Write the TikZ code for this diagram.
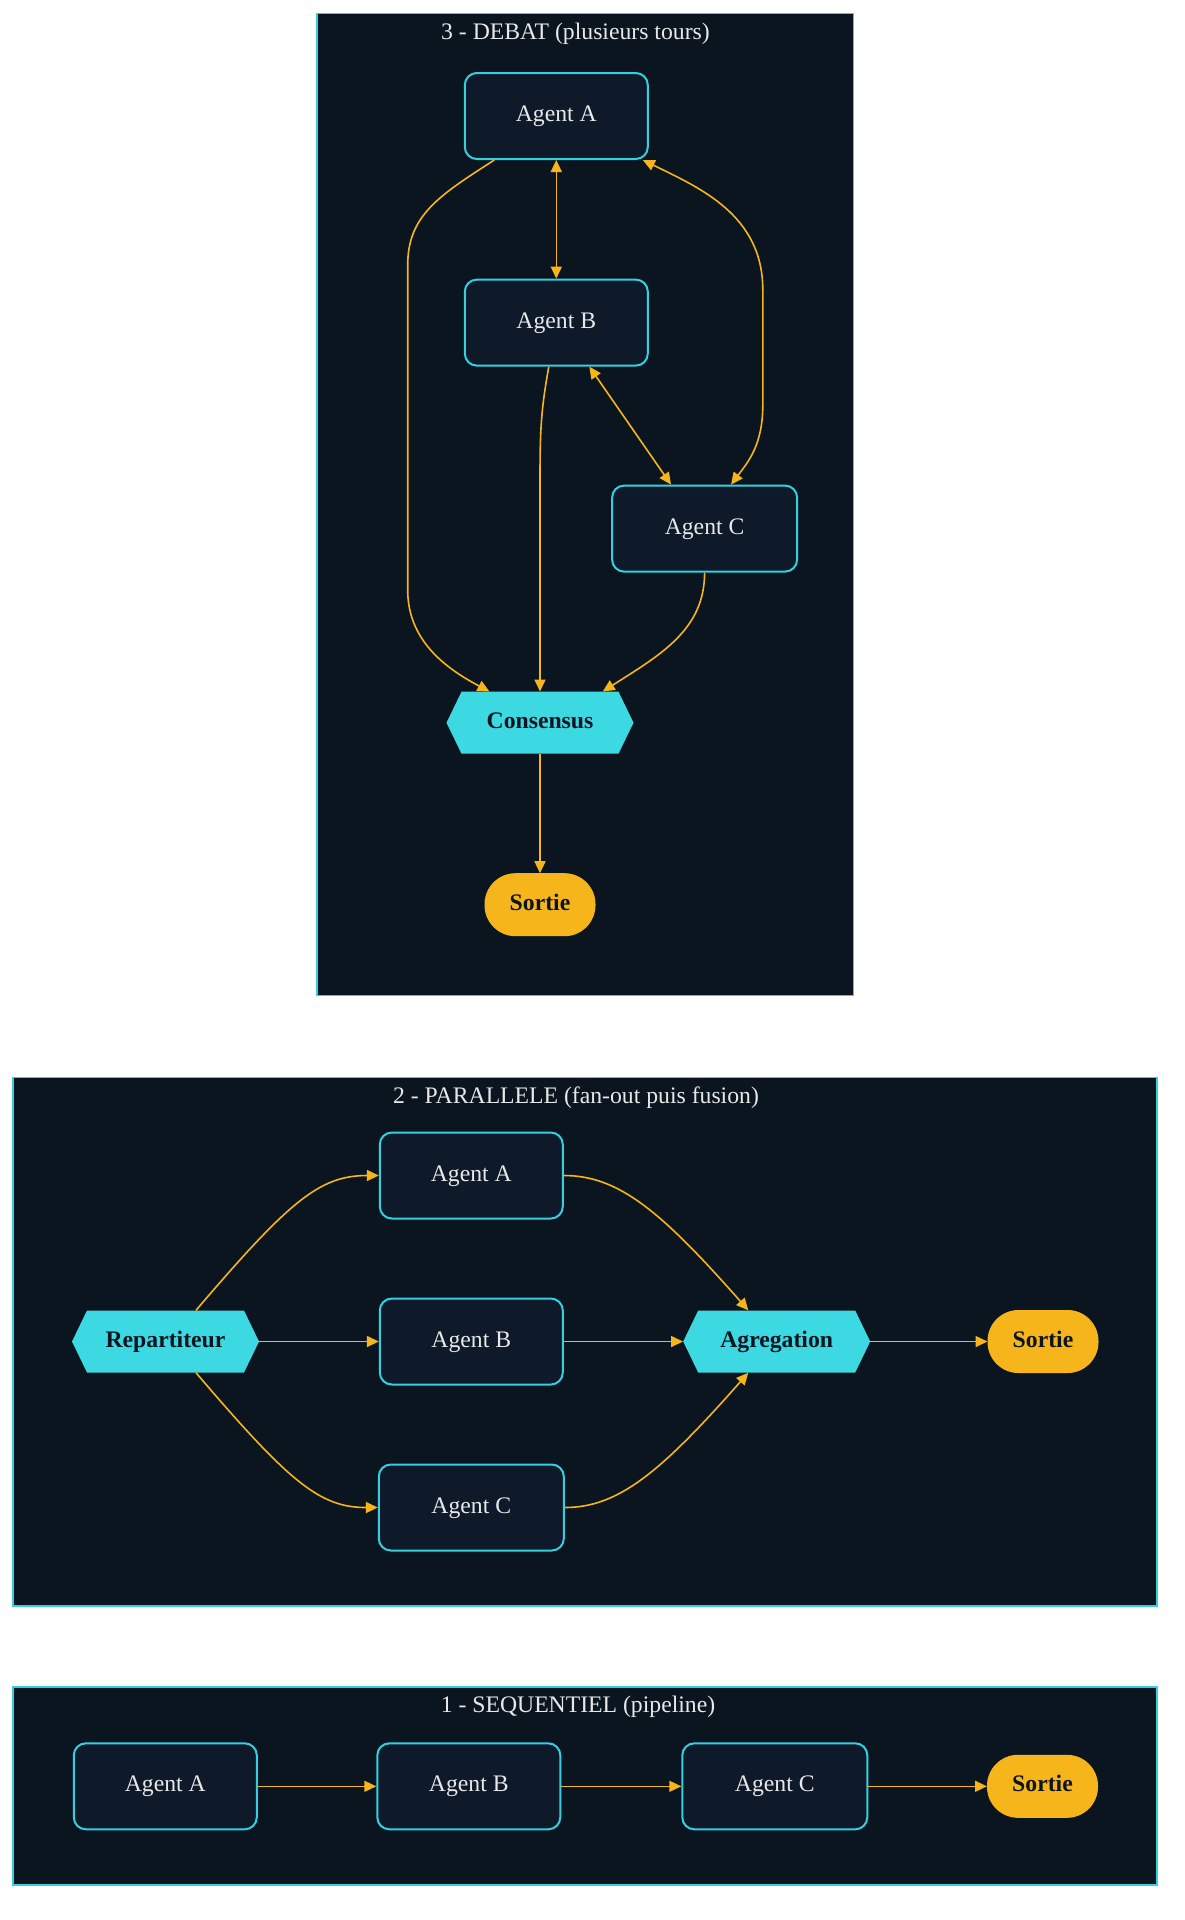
\documentclass[tikz,border=0pt]{standalone}
\usepackage{fontspec}
\setmainfont{Liberation Serif}
\usetikzlibrary{arrows.meta}
\definecolor{bgc}{HTML}{0B1520}
\definecolor{nodefill}{HTML}{0E1A2A}
\definecolor{cyanb}{HTML}{34CFE0}
\definecolor{hexfill}{HTML}{3DD9E3}
\definecolor{amber}{HTML}{F5B51B}
\definecolor{txt}{HTML}{E8E8E8}
\definecolor{darktxt}{HTML}{0B1520}
\begin{document}
\begin{tikzpicture}[x=1pt,y=-1pt,
  font=\fontsize{23.7}{28}\selectfont,
  cluster/.style={draw=cyanb, line width=1.8pt, fill=bgc},
  ctitle/.style={anchor=base, text=txt, inner sep=0pt},
  agent/.style={draw=cyanb, line width=2pt, fill=nodefill, rounded corners=12pt,
    minimum width=183pt, minimum height=86pt, text=txt, text height=16pt, text depth=4.7pt, inner sep=0pt},
  hexa/.style={shape=rectangle, fill=bgc, minimum width=187pt, minimum height=62pt, inner sep=0pt,
    text=darktxt, font=\fontsize{23.7}{28}\selectfont\bfseries, text height=16pt, text depth=4.7pt,
    path picture={\fill[hexfill] ([xshift=15pt]path picture bounding box.north west)
      -- ([xshift=-15pt]path picture bounding box.north east)
      -- (path picture bounding box.east)
      -- ([xshift=-15pt]path picture bounding box.south east)
      -- ([xshift=15pt]path picture bounding box.south west)
      -- (path picture bounding box.west) -- cycle;}},
  sortie/.style={fill=amber, draw=amber, line width=1pt, rounded corners=30.5pt, minimum width=110pt, minimum height=62pt,
    inner sep=0pt, text=darktxt, font=\fontsize{23.7}{28}\selectfont\bfseries, text height=16pt, text depth=4.7pt},
  conn/.style={draw=amber, line width=1.6pt, -{Triangle[length=12pt,width=11pt]}},
  biconn/.style={draw=amber, line width=1.6pt, {Triangle[length=12pt,width=11pt]}-{Triangle[length=12pt,width=11pt]}},
]
\fill[white] (0,0) rectangle (1184,1920);
\useasboundingbox (0,0) rectangle (1184,1920);

% clusters
\draw[cluster] (317,13.5) rectangle (853.4,995.5);
\draw[cluster] (13.3,1077.5) rectangle (1157.3,1606);
\draw[cluster] (13.3,1686.7) rectangle (1157.3,1885);

\node[ctitle] (t3) at (575.5,39) {3 - DEBAT (plusieurs tours)};
\node[ctitle] (t2) at (576,1103) {2 - PARALLELE (fan-out puis fusion)};
\node[ctitle] (t1) at (578,1712) {1 - SEQUENTIEL (pipeline)};

% cluster 3 nodes
\node[agent] (a3) at (556.3,116) {Agent A};
\node[agent] (b3) at (556.3,322.6) {Agent B};
\node[agent, minimum width=185pt] (c3) at (704.6,528.6) {Agent C};
\node[hexa] (cons) at (540,722.7) {Consensus\hspace{22pt}};
\node[sortie] (so3) at (540,904.7) {Sortie\hspace{6pt}};

% cluster 2 nodes
\node[hexa] (rep) at (165.5,1341.5) {Repartiteur\hspace{7pt}};
\node[agent] (a2) at (471.3,1175.5) {Agent A};
\node[agent] (b2) at (471.3,1341.5) {Agent B};
\node[agent, minimum width=185pt] (c2) at (471.3,1507.5) {Agent C};
\node[hexa] (agg) at (776.7,1341.5) {Agregation\hspace{14pt}};
\node[sortie] (so2) at (1043,1341.5) {Sortie\hspace{6pt}};

% cluster 1 nodes
\node[agent] (a1) at (165.3,1786.3) {Agent A};
\node[agent] (b1) at (468.8,1786.3) {Agent B};
\node[agent, minimum width=185pt] (c1) at (774.8,1786.3) {Agent C};
\node[sortie] (so1) at (1042.5,1786.3) {Sortie\hspace{6pt}};

% cluster 3 edges
\draw[conn] ([xshift=-62pt]a3.south) .. controls (440,195) and (407.7,215) .. (407.7,265)
  -- (407.7,590) .. controls (407.7,640) and (445,668) .. ([xshift=-50.5pt]cons.north);
\draw[conn] ([xshift=-7.5pt]b3.south) .. controls (541,410) and (540,430) .. (540,480) -- (cons.north);
\draw[conn] (c3.south) .. controls (704.6,630) and (660,655) .. ([xshift=62.7pt]cons.north);
\draw[biconn] (a3.south) -- (b3.north);
\draw[biconn] ([xshift=-6pt]a3.south east) .. controls (700,188) and (762.8,215) .. (762.8,290)
  -- (762.8,405) .. controls (762.8,445) and (748,462) .. ([xshift=26.4pt]c3.north);
\draw[biconn] ([xshift=33pt]b3.south) -- ([xshift=-33.6pt]c3.north);
\draw[conn] (cons.south) -- (so3.north);

% cluster 2 edges
\draw[conn] ([xshift=30.5pt]rep.north) .. controls (290,1200) and (320,1175.5) .. (a2.west);
\draw[conn] (rep.east) -- (b2.west);
\draw[conn] ([xshift=30.5pt]rep.south) .. controls (290,1483) and (320,1507.5) .. (c2.west);
\draw[conn] (a2.east) .. controls (618,1175.5) and (660,1210) .. ([xshift=-28.4pt]agg.north);
\draw[conn] (b2.east) -- (agg.west);
\draw[conn] (c2.east) .. controls (618,1507.5) and (660,1473) .. ([xshift=-28.4pt]agg.south);
\draw[conn] (agg.east) -- (so2.west);

% cluster 1 edges
\draw[conn] (a1.east) -- (b1.west);
\draw[conn] (b1.east) -- (c1.west);
\draw[conn] (c1.east) -- (so1.west);
\end{tikzpicture}
\end{document}
